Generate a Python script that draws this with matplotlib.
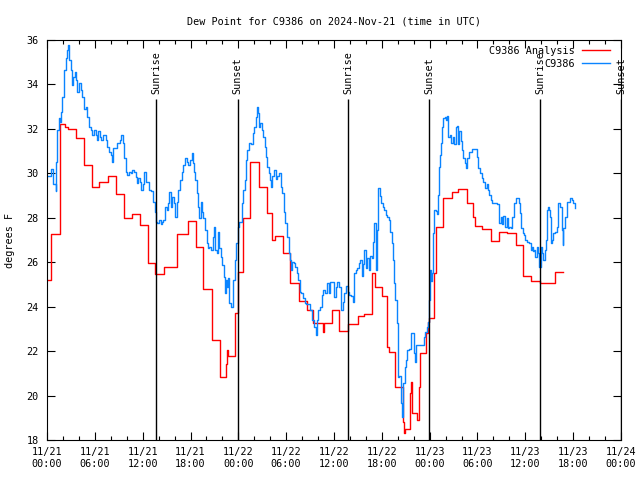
"""
Dew point chart for C9386 (observations vs analysis)
"""
import matplotlib
matplotlib.use('Agg')
import matplotlib.pyplot as plt

# hours since 2024-11-21 00:00 UTC
red_hours = [0.0, 0.55, 1.6, 2.3, 2.6, 3.7, 4.6, 5.7, 6.5, 7.7, 8.6, 9.6, 10.6, 11.7,
             12.7, 13.6, 14.7, 16.3, 17.7, 18.65, 19.6, 20.65, 20.75, 21.7, 22.4, 22.55,
             22.75, 23.6, 23.95, 24.55, 25.5, 26.55, 27.6, 28.2, 28.65, 29.55, 30.5,
             31.65, 32.6, 33.4, 34.6, 34.8, 35.8, 36.6, 37.8, 39.0, 39.8, 40.8, 41.2,
             42.0, 42.6, 42.9, 43.65, 44.6, 44.8, 44.9, 45.5, 45.6, 45.75, 46.45, 46.7,
             46.8, 47.6, 47.8, 47.9, 48.6, 48.75, 49.7, 50.75, 51.6, 52.7, 53.4, 53.7,
             54.6, 55.7, 56.75, 57.75, 58.8, 59.75, 60.7, 61.85, 63.7, 64.7]
red_vals = [25.2, 27.25, 32.2, 32.1, 32.0, 31.6, 30.36, 29.4, 29.6, 29.9, 29.05, 28.0, 28.17, 27.67,
            25.98, 25.45, 25.78, 27.26, 27.85, 26.68, 24.78, 24.2, 22.5, 20.85, 21.4, 22.05,
            21.8, 23.7, 25.57, 28.0, 30.52, 29.4, 28.2, 27.0, 27.2, 26.4, 25.05,
            24.27, 23.85, 23.25, 22.85, 23.25, 23.85, 22.9, 23.2, 23.6, 23.65, 25.5, 24.9,
            24.5, 22.2, 21.97, 20.4, 18.8, 18.3, 18.48, 20.1, 20.6, 19.2, 18.9, 20.4,
            21.9, 22.8, 23.3, 23.47, 25.5, 27.57, 28.87, 29.15, 29.28, 28.65, 28.05, 27.63,
            27.48, 26.95, 27.37, 27.3, 26.77, 25.38, 25.15, 25.05, 25.57, 25.57]

blue_hours = [0.04, 0.54, 0.79, 1.09, 1.17, 1.30, 1.51, 1.63, 1.71, 1.92, 2.13, 2.34, 2.55, 2.68,
              2.80, 2.97, 3.18, 3.30, 3.47, 3.64, 3.80, 4.01, 4.22, 4.43, 4.64, 4.85, 5.06,
              5.27, 5.48, 5.69, 5.90, 6.10, 6.31, 6.44, 6.65, 6.81, 7.06, 7.36, 7.57, 7.78,
              7.99, 8.11, 8.32, 8.61, 8.82, 9.16, 9.32, 9.49, 9.66, 9.87, 10.07, 10.29, 10.50,
              10.70, 10.91, 11.13, 11.25, 11.41, 11.67, 11.83, 12.0, 12.2, 12.4, 12.83, 13.05,
              13.34, 13.5, 13.67, 13.84, 14.09, 14.26, 14.43, 14.6, 14.8, 15.0, 15.22, 15.35,
              15.55, 15.72, 15.93, 16.05, 16.26, 16.47, 16.68, 16.89, 17.1, 17.31, 17.52,
              17.73, 17.94, 18.15, 18.27, 18.44, 18.57, 18.77, 18.98, 19.11, 19.27, 19.48,
              19.61, 19.82, 20.03, 20.16, 20.37, 20.58, 20.79, 20.95, 21.12, 21.29, 21.46,
              21.62, 21.83, 22.0, 22.21, 22.33, 22.46, 22.63, 22.75, 22.88, 23.04, 23.2,
              23.37, 23.54, 23.7, 23.92, 24.1, 24.4, 24.6, 24.8, 24.96, 25.13, 25.38, 25.59,
              25.8, 25.97, 26.17, 26.3, 26.47, 26.6, 26.72, 26.93, 27.1, 27.3, 27.43, 27.6,
              27.8, 27.94, 28.1, 28.27, 28.48, 28.69, 28.9, 29.1, 29.3, 29.5, 29.7, 29.9,
              30.12, 30.3, 30.45, 30.58, 30.79, 30.95, 31.12, 31.3, 31.5, 31.7, 31.92, 32.13,
              32.34, 32.55, 32.97, 33.3, 33.47, 33.68, 33.81, 34.02, 34.23, 34.44, 34.65,
              34.86, 35.07, 35.28, 35.4, 35.5, 35.83, 36.0, 36.25, 36.42, 36.67, 36.88,
              37.09, 37.3, 37.5, 37.72, 37.92, 38.13, 38.34, 38.51, 38.72, 38.93, 39.1,
              39.26, 39.47, 39.6, 39.76, 39.97, 40.18, 40.39, 40.52, 40.73, 40.85, 41.06,
              41.23, 41.36, 41.48, 41.56, 41.77, 41.9, 42.1, 42.27, 42.48, 42.69, 42.9,
              43.03, 43.24, 43.44, 43.57, 43.7, 43.86, 44.07, 44.2, 44.4, 44.57, 44.7, 44.9,
              45.0, 45.2, 45.4, 45.66, 45.87, 46.0, 46.15, 46.3, 46.7, 47.2, 47.3, 47.45,
              47.66, 47.8, 47.95, 48.04, 48.12, 48.25, 48.46, 48.6, 48.75, 48.88, 49.0,
              49.13, 49.3, 49.42, 49.59, 49.72, 49.92, 50.05, 50.2, 50.33, 50.54, 50.67,
              50.88, 51.05, 51.26, 51.47, 51.6, 51.72, 51.89, 52.01, 52.22, 52.43, 52.55,
              52.72, 52.97, 53.27, 53.69, 53.9, 54.1, 54.3, 54.52, 54.73, 54.94, 55.15,
              55.32, 55.48, 55.65, 55.8, 56.2, 56.5, 56.66, 56.75, 56.9, 57.05, 57.25,
              57.46, 57.67, 57.8, 58.0, 58.2, 58.38, 58.59, 58.8, 59.0, 59.18, 59.35, 59.5,
              59.68, 59.85, 60.0, 60.27, 60.52, 60.69, 60.82, 60.94, 61.11, 61.27, 61.44,
              61.6, 61.77, 61.94, 62.1, 62.27, 62.48, 62.6, 62.7, 62.82, 62.98, 63.1, 63.23,
              63.36, 63.53, 63.73, 63.94, 64.15, 64.36, 64.56, 64.7, 64.78, 64.98, 65.19,
              65.4, 65.6, 65.81, 66.02, 66.23]
blue_vals = [29.88, 30.2, 29.5, 29.2, 30.5, 31.95, 32.5, 32.3, 32.77, 33.45, 34.65, 35.2, 35.55, 35.77,
             35.1, 34.65, 33.97, 34.35, 34.57, 34.2, 33.67, 34.05, 33.75, 33.45, 32.9, 33.0, 32.55,
             32.1, 31.95, 31.72, 31.95, 31.72, 31.5, 31.9, 31.65, 31.5, 31.72, 31.5, 31.2, 30.97,
             30.82, 30.52, 31.15, 31.15, 31.35, 31.5, 31.72, 31.35, 30.67, 30.07, 29.92, 30.07, 30.0,
             30.15, 30.07, 29.85, 29.55, 29.8, 29.6, 29.25, 29.5, 30.07, 29.6, 29.25, 29.2,
             28.72, 28.27, 27.82, 27.75, 27.9, 27.7, 27.82, 27.9, 28.5, 28.35, 28.65, 29.17,
             28.5, 28.95, 28.65, 28.05, 28.72, 29.25, 29.7, 30.07, 30.37, 30.67, 30.52,
             30.37, 30.6, 30.9, 30.45, 30.07, 29.7, 29.1, 28.5, 27.97, 28.72, 28.27,
             27.97, 27.45, 26.85, 26.62, 26.7, 26.55, 27.15, 27.6, 26.55, 26.4, 27.37,
             26.62, 26.25, 25.87, 25.35, 24.6, 25.2, 24.9, 25.27, 24.15, 24.0, 24.0,
             25.2, 26.1, 26.85, 27.6, 27.8, 28.65, 29.25, 29.7, 30.6, 31.05, 31.35, 31.3,
             31.8, 32.1, 32.55, 33.0, 32.7, 32.1, 32.25, 31.95, 31.65, 31.2, 30.75, 30.3,
             30.0, 29.7, 29.4, 29.9, 30.15, 29.75, 29.9, 30.0, 29.4, 29.1, 28.27, 27.75,
             27.15, 26.4, 26.1, 25.65, 26.0, 25.95, 25.8, 25.5, 25.2, 24.67, 24.6, 24.4,
             24.15, 24.1, 23.85, 23.4, 23.1, 22.72, 23.4, 23.85, 24.0, 24.52, 24.75,
             24.6, 25.05, 25.05, 24.6, 25.1, 25.1, 24.45, 24.9, 25.12, 24.9, 23.85,
             24.2, 24.6, 24.95, 24.65, 24.52, 24.5, 24.22, 25.5, 25.65, 25.72, 25.95,
             26.1, 25.4, 25.9, 26.55, 25.72, 26.2, 25.65, 26.3, 26.2, 26.92, 27.75,
             25.65, 27.45, 28.65, 29.33, 29.0, 28.65, 28.5, 28.35, 28.12, 28.05, 27.9,
             27.37, 26.85, 26.1, 25.05, 24.3, 23.25, 20.85, 20.9, 19.65, 19.05, 20.55, 21.3,
             21.6, 22.05, 22.1, 22.8, 22.8, 21.9, 21.5, 22.27, 22.27, 22.27, 22.65, 22.87,
             23.1, 23.3, 24.3, 25.65, 25.15, 25.5, 27.3, 28.35, 28.3, 28.15, 29.02,
             30.3, 30.82, 31.35, 32.1, 32.47, 32.55, 32.4, 32.6, 31.65, 31.72, 31.35,
             31.65, 31.3, 32.1, 32.15, 31.3, 31.9, 31.45, 31.05, 30.67, 30.45, 30.22,
             30.67, 30.97, 31.08, 31.08, 30.75, 30.22, 30.0, 29.77, 29.62, 29.33, 29.5,
             29.25, 29.02, 28.8, 28.65, 28.65, 28.6, 28.2, 27.75, 28.05, 27.7, 28.1,
             27.6, 28.0, 27.52, 27.6, 27.55, 28.05, 28.65, 28.87, 28.87, 28.65, 28.2, 27.52,
             27.3, 27.22, 27.0, 26.92, 26.85, 26.55, 26.7, 26.5, 26.55, 26.25, 26.7,
             26.4, 25.8, 26.7, 26.4, 26.1, 26.55, 27.0, 28.35, 28.5, 28.35, 28.05, 26.85,
             27.0, 27.3, 27.37, 27.6, 28.65, 28.5, 27.45, 26.77, 27.52, 28.05, 28.72,
             28.72, 28.87, 28.8, 28.65, 28.42]

sun_hours = [13.67, 23.92, 37.8, 47.96, 61.88, 72.0]
sun_labels = ['Sunrise', 'Sunset', 'Sunrise', 'Sunset', 'Sunrise', 'Sunset']

xtick_hours = [0, 6, 12, 18, 24, 30, 36, 42, 48, 54, 60, 66, 72]
xtick_labels = ['11/21\n00:00', '11/21\n06:00', '11/21\n12:00', '11/21\n18:00',
                '11/22\n00:00', '11/22\n06:00', '11/22\n12:00', '11/22\n18:00',
                '11/23\n00:00', '11/23\n06:00', '11/23\n12:00', '11/23\n18:00',
                '11/24\n00:00']

plt.rcParams['font.family'] = 'DejaVu Sans Mono'
plt.rcParams['font.size'] = 7.3

fig = plt.figure(figsize=(6.4, 4.8), dpi=100)
ax = fig.add_axes([47 / 640, 40 / 480, 574 / 640, 400 / 480])

ax.plot(red_hours, red_vals, drawstyle='steps-post', color='#ff0000', linewidth=1.0,
        label='C9386 Analysis')
ax.plot(blue_hours, blue_vals, drawstyle='steps-post', color='#0a84ff', linewidth=1.0,
        label='C9386')

# sunrise / sunset markers
ax.vlines(sun_hours, 18, 33.35, color='black', linewidth=1.0)
for h, lab in zip(sun_hours, sun_labels):
    ax.text(h, 33.55, lab, rotation=90, ha='center', va='bottom')

ax.set_xlim(0, 72)
ax.set_ylim(18, 36)
ax.set_xticks(xtick_hours)
ax.set_xticklabels(xtick_labels)
ax.set_xticks(range(0, 73, 2), minor=True)
ax.set_yticks(range(18, 37, 2))

ax.tick_params(which='both', direction='in', top=True, right=True, width=0.8)
ax.tick_params(which='major', length=6)
ax.tick_params(which='minor', length=3)
ax.tick_params(axis='x', pad=5)
ax.tick_params(axis='y', pad=6)
for s in ax.spines.values():
    s.set_linewidth(0.8)

ax.set_title('Dew Point for C9386 on 2024-Nov-21 (time in UTC)', fontsize=7.3, pad=11)
ax.set_ylabel('degrees F', labelpad=8)

ax.legend(loc='upper right', bbox_to_anchor=(0.981, 0.985), frameon=False,
          markerfirst=False, borderaxespad=0, borderpad=0, handlelength=2.8,
          handletextpad=0.7, labelspacing=0.25)

fig.savefig('out.png', dpi=100)
